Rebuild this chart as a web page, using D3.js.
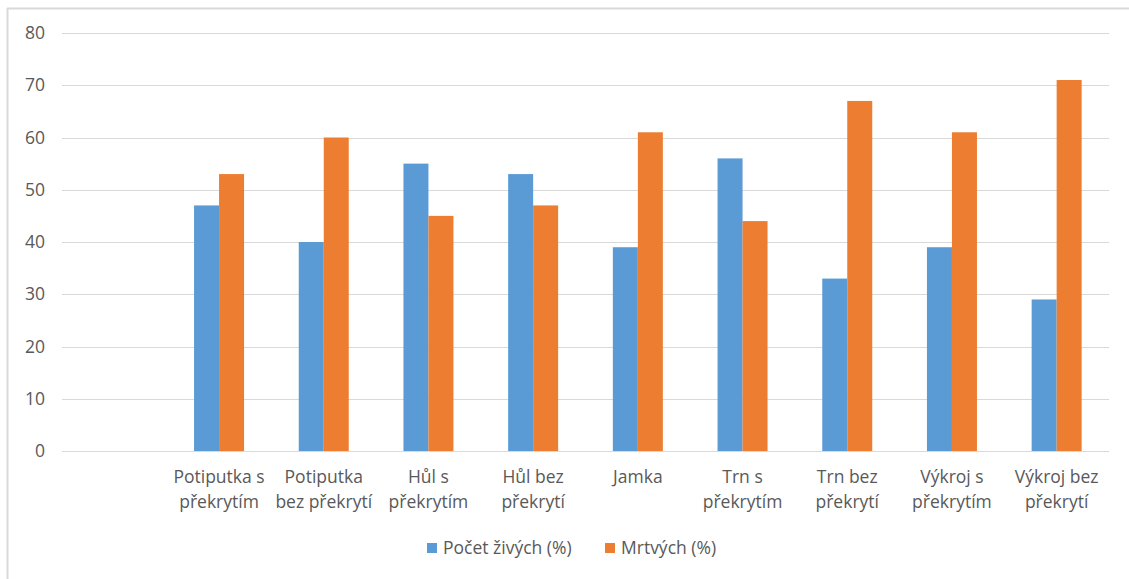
<!DOCTYPE html>
<html>
<head>
<meta charset="utf-8">
<script src="https://cdn.jsdelivr.net/npm/d3@7"></script>
<style>
  html, body { margin: 0; padding: 0; background: #fff; }
  svg { display: block; }
  text { font-family: "Open Sans", "Noto Sans", sans-serif; fill: #595959; }
</style>
</head>
<body>
<svg id="chart" width="1129" height="579"></svg>
<script>
// Categories (first slot is an empty, unlabeled category)
const categories = [
  "",
  "Potiputka s překrytím",
  "Potiputka bez překrytí",
  "Hůl s překrytím",
  "Hůl bez překrytí",
  "Jamka",
  "Trn s překrytím",
  "Trn bez překrytí",
  "Výkroj s překrytím",
  "Výkroj bez překrytí"
];
// Wrapped label lines per category
const labelLines = [
  [],
  ["Potiputka s", "překrytím"],
  ["Potiputka", "bez překrytí"],
  ["Hůl s", "překrytím"],
  ["Hůl bez", "překrytí"],
  ["Jamka"],
  ["Trn s", "překrytím"],
  ["Trn bez", "překrytí"],
  ["Výkroj s", "překrytím"],
  ["Výkroj bez", "překrytí"]
];
const seriesNames = ["Počet živých (%)", "Mrtvých (%)"];
const zive = [null, 47, 40, 55, 53, 39, 56, 33, 39, 29];
const mrtve = [null, 53, 60, 45, 47, 61, 44, 67, 61, 71];
const yTicks = [0, 10, 20, 30, 40, 50, 60, 70, 80];
const colors = ["#5B9BD5", "#ED7D31"];

const svg = d3.select("#chart");
const W = 1129, H = 579;
const FS = 17.5;

// Outer frame (left and top edges)
svg.append("line").attr("x1", 7.5).attr("x2", 7.5).attr("y1", 8).attr("y2", H)
  .attr("stroke", "#d9d9d9").attr("stroke-width", 2);
svg.append("line").attr("x1", 7).attr("x2", W).attr("y1", 8.5).attr("y2", 8.5)
  .attr("stroke", "#d9d9d9").attr("stroke-width", 2);

const plot = { left: 62, right: 1109, top: 33, bottom: 451 };

const x = d3.scaleBand().domain(d3.range(categories.length))
  .range([plot.left, plot.right]).paddingInner(0).paddingOuter(0);
const y = d3.scaleLinear().domain([0, 80]).range([plot.bottom, plot.top]);

// Gridlines
svg.append("g").selectAll("line").data(yTicks).join("line")
  .attr("x1", plot.left).attr("x2", plot.right)
  .attr("y1", d => Math.round(y(d)) + 0.5).attr("y2", d => Math.round(y(d)) + 0.5)
  .attr("stroke", "#d9d9d9").attr("stroke-width", 1);

// Y axis labels
const yAxis = d3.axisLeft(y).tickValues(yTicks).tickSize(0).tickPadding(0);
const gy = svg.append("g").attr("transform", `translate(${45},0)`).call(yAxis);
gy.select(".domain").remove();
gy.selectAll("text").attr("font-size", FS).style("fill", "#595959")
  .attr("font-family", "'Open Sans', 'Noto Sans', sans-serif");

// Bars
const barW = 25;
const series = [zive, mrtve];
series.forEach((vals, si) => {
  svg.append("g").selectAll("rect")
    .data(vals.map((v, i) => ({ v, i })).filter(d => d.v != null))
    .join("rect")
    .attr("x", d => x(d.i) + x.bandwidth() / 2 - barW + si * barW)
    .attr("width", barW)
    .attr("y", d => y(d.v))
    .attr("height", d => y(0) - y(d.v))
    .attr("fill", colors[si]);
});

// Category labels
const xl = svg.append("g");
labelLines.forEach((lines, i) => {
  const t = xl.append("text")
    .attr("x", x(i) + x.bandwidth() / 2)
    .attr("y", 483)
    .attr("text-anchor", "middle")
    .attr("font-size", FS);
  lines.forEach((ln, j) => {
    t.append("tspan").attr("x", x(i) + x.bandwidth() / 2)
      .attr("dy", j === 0 ? 0 : 25).text(ln);
  });
});

// Legend
const legend = svg.append("g");
const legendItems = [
  { name: seriesNames[0], color: colors[0], x: 427 },
  { name: seriesNames[1], color: colors[1], x: 605 }
];
legendItems.forEach(it => {
  legend.append("rect").attr("x", it.x).attr("y", 543).attr("width", 10).attr("height", 10)
    .attr("fill", it.color);
  legend.append("text").attr("x", it.x + 16).attr("y", 554)
    .attr("font-size", FS).text(it.name);
});
</script>
</body>
</html>
